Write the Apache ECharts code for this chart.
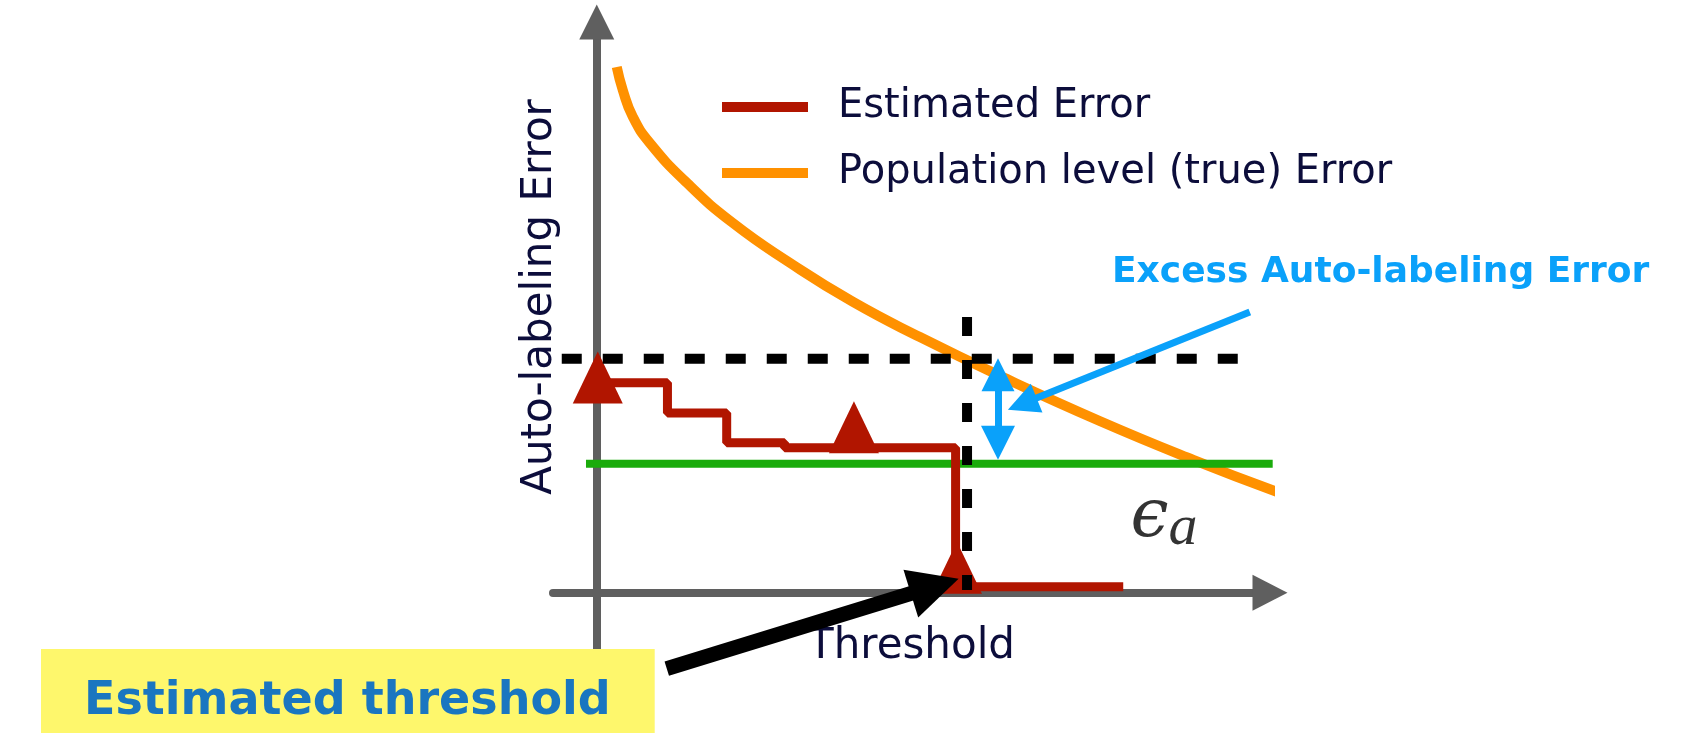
<!DOCTYPE html>
<html>
<head>
<meta charset="utf-8">
<title>Auto-labeling error vs threshold</title>
<script src="https://cdn.jsdelivr.net/npm/echarts@6/dist/echarts.min.js"></script>
<style>
  html, body { margin: 0; padding: 0; background: #fff; }
  #chart { width: 1681px; height: 733px; }
</style>
</head>
<body>
<div id="chart"></div>
<script>
// axis ranges (threshold on x, auto-labeling error on y)
const xRange = [-6.5, 100]
const yRange = [-10.9, 100]

// population level (true) error curve
const trueErrX = [2.97, 3.86, 5.35, 7.88, 13.4, 20.2, 28.7, 38.0, 48.0, 59.9, 74.7, 88.6, 101.0]
const trueErrY = [92.1, 88.1, 83.4, 78.8, 71.8, 64.8, 57.8, 51.0, 44.8, 38.0, 30.1, 23.3, 17.7]

// estimated error (step function)
const estErrX = [0, 10.5, 19.3, 27.9, 53.3, 78.2]
const estErrY = [36.8, 31.5, 26.3, 25.4, 1.05, 1.05]

// sampled points on the estimated error
const sampleX = [0.15, 38.2, 53.5]
const sampleY = [37.7, 29.0, 4.4]

// epsilon_a level and the threshold guide lines
const epsA = 22.6
const epsSpan = [-1.6, 100.4]
const guideErr = 41.0
const guideErrSpan = [-5.2, 97.0]
const thresholdX = 55.0
const thresholdSpan = [48.3, 0.5]

// annotation arrows, [from, to] in data units
const excessGap = [[59.6, 38.2], [59.6, 26.3]]
const excessPointer = [[97.0, 49.2], [63.2, 33.1]]
const thresholdPointer = [[10.4, -13.3], [50.2, 1.16]]
const epsLabelAt = [79.2, 13.1]

const NAVY = '#0c0d3b'
const zip = (xs, ys) => xs.map((x, i) => [x, ys[i]])

// lines series keep points outside the axis range (markLine drops them)
const arrow = (name, pts, color, width, symbol, size) => ({
  name: name,
  type: 'lines',
  coordinateSystem: 'cartesian2d',
  silent: true,
  clip: false,
  symbol: symbol,
  symbolSize: size,
  lineStyle: { color: color, width: width, opacity: 1, curveness: 0 },
  data: [{ coords: pts }],
  z: 8
})

const chart = echarts.init(document.getElementById('chart'))

const option = {
  animation: false,
  title: [
    {
      text: 'Excess Auto-labeling Error',
      left: 1112,
      top: 255,
      padding: 0,
      textStyle: {
        color: '#0aa1fa',
        fontFamily: 'DejaVu Sans',
        fontWeight: 'bold',
        fontSize: 36,
        lineHeight: 36
      }
    },
    {
      text: 'Estimated threshold',
      left: 41,
      top: 649,
      padding: [30, 44, 8, 43],
      backgroundColor: '#fef76c',
      textStyle: {
        color: '#1a76c0',
        fontFamily: 'DejaVu Sans',
        fontWeight: 'bold',
        fontSize: 46,
        lineHeight: 46
      }
    }
  ],
  legend: {
    data: ['Estimated Error', 'Population level (true) Error'],
    orient: 'vertical',
    left: 722,
    top: 84,
    padding: 0,
    itemGap: 20,
    itemWidth: 86,
    itemHeight: 10,
    icon: 'rect',
    selectedMode: false,
    textStyle: {
      color: NAVY,
      fontFamily: 'DejaVu Sans',
      fontSize: 40,
      lineHeight: 46,
      padding: [0, 0, 0, 25]
    }
  },
  grid: {
    left: 553,
    top: 22,
    width: 717,
    height: 633,
    containLabel: false
  },
  xAxis: {
    type: 'value',
    min: xRange[0],
    max: xRange[1],
    name: 'Threshold',
    nameLocation: 'middle',
    // name is laid out from the grid edge, not from the zero line
    nameGap: -29,
    nameTextStyle: {
      color: NAVY,
      fontFamily: 'DejaVu Sans',
      fontSize: 42,
      lineHeight: 42
    },
    axisLine: {
      show: true,
      onZero: true,
      symbol: ['none', 'triangle'],
      symbolSize: [36, 35],
      lineStyle: { color: '#5f5f5f', width: 8 }
    },
    axisTick: { show: false },
    axisLabel: { show: false },
    splitLine: { show: false }
  },
  yAxis: {
    type: 'value',
    min: yRange[0],
    max: yRange[1],
    name: 'Auto-labeling Error',
    nameLocation: 'middle',
    nameGap: -8,
    nameTextStyle: {
      color: NAVY,
      fontFamily: 'DejaVu Sans',
      fontSize: 42,
      lineHeight: 42,
      padding: [0, 0, 0, 83]
    },
    axisLine: {
      show: true,
      onZero: true,
      symbol: ['none', 'triangle'],
      symbolSize: [35, 35],
      lineStyle: { color: '#5f5f5f', width: 8 }
    },
    axisTick: { show: false },
    axisLabel: { show: false },
    splitLine: { show: false }
  },
  series: [
    {
      name: 'Population level (true) Error',
      type: 'line',
      data: zip(trueErrX, trueErrY),
      smooth: 0.5,
      symbol: 'none',
      clip: false,
      color: '#ff9100',
      lineStyle: { color: '#ff9100', width: 10 },
      z: 2
    },
    {
      name: 'epsilon_a',
      type: 'line',
      data: epsSpan.map((x) => [x, epsA]),
      symbol: 'none',
      clip: false,
      lineStyle: { color: '#1aab0b', width: 8 },
      z: 3
    },
    {
      name: 'Estimated Error',
      type: 'line',
      step: 'end',
      data: zip(estErrX, estErrY),
      symbol: 'none',
      color: '#b11500',
      lineStyle: { color: '#b11500', width: 9 },
      z: 4
    },
    {
      name: 'samples',
      type: 'scatter',
      data: zip(sampleX, sampleY),
      symbol: 'triangle',
      symbolSize: [50, 52],
      itemStyle: { color: '#b11500', opacity: 1 },
      z: 5
    },
    {
      name: 'estimated error level',
      type: 'line',
      data: guideErrSpan.map((x) => [x, guideErr]),
      symbol: 'none',
      clip: false,
      lineStyle: { color: '#000', width: 10, type: [20, 21] },
      z: 6
    },
    {
      name: 'estimated threshold',
      type: 'line',
      data: thresholdSpan.map((y) => [thresholdX, y]),
      symbol: 'none',
      lineStyle: { color: '#000', width: 10, type: [19, 24] },
      z: 6
    },
    arrow('excess gap', excessGap, '#0aa1fa', 7, ['triangle', 'triangle'], [33, 34]),
    arrow('excess pointer', excessPointer, '#0aa1fa', 7, ['none', 'triangle'], [37, 31]),
    arrow('threshold pointer', thresholdPointer, '#000', 15, ['none', 'triangle'], [53, 50]),
    {
      name: 'epsilon label',
      type: 'scatter',
      data: [epsLabelAt],
      symbolSize: 1,
      itemStyle: { color: 'rgba(0,0,0,0)' },
      label: {
        show: true,
        position: 'right',
        distance: 0,
        formatter: '{e|\u03f5}{a|a}',
        rich: {
          e: {
            fontFamily: 'DejaVu Serif',
            fontStyle: 'italic',
            fontSize: 68,
            color: '#000',
            lineHeight: 80,
            verticalAlign: 'middle'
          },
          a: {
            fontFamily: 'Liberation Serif',
            fontStyle: 'italic',
            fontSize: 58,
            color: '#000',
            lineHeight: 56,
            verticalAlign: 'bottom'
          }
        }
      },
      z: 7
    }
  ]
}

chart.setOption(option)
</script>
</body>
</html>
